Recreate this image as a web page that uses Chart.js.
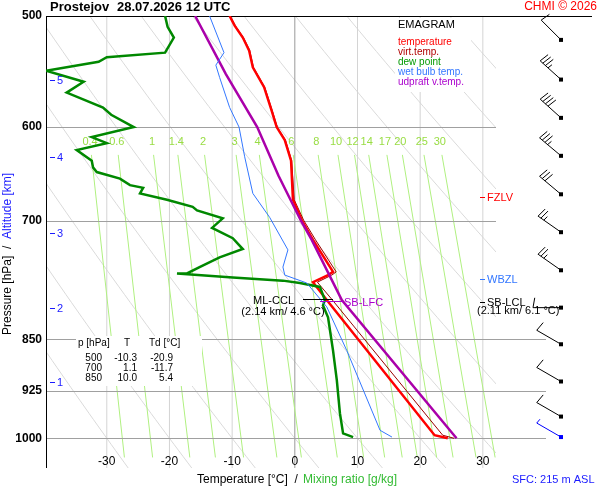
<!DOCTYPE html>
<html>
<head>
<meta charset="utf-8">
<script src="https://cdn.jsdelivr.net/npm/chart.js@4/dist/chart.umd.min.js"></script>
<style>
  html, body { margin: 0; padding: 0; background: #fff; }
  #wrap { width: 600px; height: 500px; }
</style>
</head>
<body>
<div id="wrap"><canvas id="emagram" width="600" height="500"></canvas></div>
<script>
// sounding profiles, pressure [hPa] / temperature [°C]
const tempP = [1000, 995, 797, 774, 765, 761, 722, 699, 676, 634, 613, 600, 584, 562, 544, 529, 518, 508, 500];
const tempT = [24.4, 22.3, 5.1, 2.9, 5.3, 6.1, 2.9, 1.1, -0.3, -0.6, -1.6, -2.9, -3.7, -4.9, -6.7, -7.3, -8.3, -9.6, -10.4];

const virtP = [1000, 995, 797, 774, 765, 761, 722, 699, 676, 634, 613, 600, 584, 562, 544, 529, 518, 508, 500];
const virtT = [25.4, 23.6, 6.0, 3.6, 5.9, 6.6, 3.3, 1.4, -0.1, -0.5, -1.5, -2.8, -3.6, -4.8, -6.6, -7.2, -8.2, -9.5, -10.3];

const dewP = [998, 992, 960, 909, 866, 820, 804, 797, 780, 775, 772, 768, 763, 763, 755, 743, 733, 720, 708, 697,
  688, 684, 676, 669, 663, 660, 653, 646, 641, 634, 623, 616, 610, 600, 588, 581, 567, 557, 547, 539, 535, 531, 518, 509, 500];
const dewT = [9.3, 7.7, 7.2, 6.7, 6.1, 5.3, 4.5, 4.8, 4.0, 0.8, -1.9, -9.9, -18.8, -17.2, -15.2, -12.0, -8.3, -9.9, -13.2, -11.5,
  -15.6, -16.3, -20.4, -24.7, -24.2, -26.3, -27.9, -31.6, -32.2, -32.4, -34.8, -30.0, -32.4, -25.7, -29.3, -30.6, -36.4, -33.7, -39.7, -31.3, -30.0, -20.7, -19.3, -20.3, -20.7];

const wetP = [998, 987, 866, 806, 775, 765, 755, 734, 696, 669, 630, 600, 581, 553, 542, 531, 500];
const wetT = [15.5, 13.6, 8.3, 5.1, 1.9, -1.6, -1.9, -1.1, -4.0, -6.7, -8.0, -8.9, -10.4, -12.0, -12.6, -11.3, -13.6];

const parcelP = [1000, 797, 722, 700, 650, 600, 550, 500];
const parcelT = [25.8, 7.5, 2.7, 1.0, -2.6, -6.0, -11.0, -15.9];

// axes and reference lines
const isobars = [600, 700, 850, 925, 1000];
const isotherms = [-30, -20, -10, 0, 10, 20, 30];
const tempTicks = [-30, -20, -10, 0, 10, 20, 30];
const pressTicks = [500, 600, 700, 850, 925, 1000];
const mixRatios = [0.4, 0.6, 1, 1.4, 2, 3, 4, 6, 8, 10, 12, 14, 17, 20, 25, 30];
const dryAdiabats = [-30, -20, -10, 0, 10, 20, 30, 40, 50, 60, 70, 80, 90, 100, 110, 120];

// altitude marks [km] and the pressure they sit at
const altKm = [1, 2, 3, 4, 5];
const altP = [912, 808, 714, 630, 555];

// wind profile
const windP = [520, 555, 591, 629, 670, 713, 759, 807, 857, 911, 965, 998];
const windDir = [315, 312, 312, 310, 310, 305, 305, 270, 300, 300, 300, 300];
const windSpd = [10, 35, 40, 35, 30, 25, 25, 10, 10, 10, 10, 5];

const pairs = (ps, ts) => ps.map((p, i) => ({ x: ts[i], y: p }));

function mixTd(w, p) {
  const e = w * p / (622 + w);
  const l = Math.log(e / 6.112);
  return 243.5 * l / (17.67 - l);
}

const FONT = '"Liberation Sans", Arial, sans-serif';

const emagramPlugin = {
  id: 'emagram',
  beforeDatasetsDraw(chart) {
    const { ctx, chartArea: a, scales: { x, y } } = chart;
    ctx.save();
    ctx.beginPath();
    ctx.rect(a.left, a.top, a.right - a.left, a.bottom - a.top);
    ctx.clip();

    // dry adiabats
    ctx.strokeStyle = '#dadada';
    ctx.lineWidth = 1;
    dryAdiabats.forEach(th => {
      ctx.beginPath();
      for (let p = 1060; p >= 495; p -= 10) {
        const t = (th + 273.15) * Math.pow(p / 1000, 0.286) - 273.15;
        const px = x.getPixelForValue(t), py = y.getPixelForValue(p);
        if (p === 1060) ctx.moveTo(px, py); else ctx.lineTo(px, py);
      }
      ctx.stroke();
    });

    // isotherms
    isotherms.forEach(t => {
      ctx.strokeStyle = t === 0 ? '#999' : '#d4d4d4';
      ctx.beginPath();
      ctx.moveTo(x.getPixelForValue(t), a.top);
      ctx.lineTo(x.getPixelForValue(t), a.bottom);
      ctx.stroke();
    });

    // mixing ratio lines
    ctx.strokeStyle = '#b0f080';
    mixRatios.forEach(w => {
      ctx.beginPath();
      ctx.moveTo(x.getPixelForValue(mixTd(w, 628)), y.getPixelForValue(628));
      ctx.lineTo(x.getPixelForValue(mixTd(w, 1032)), y.getPixelForValue(1032));
      ctx.stroke();
    });
    ctx.restore();

    // isobars
    ctx.save();
    ctx.strokeStyle = '#a0a0a0';
    ctx.lineWidth = 1;
    isobars.forEach(p => {
      const py = Math.round(y.getPixelForValue(p)) + 0.5;
      ctx.beginPath();
      ctx.moveTo(a.left, py);
      ctx.lineTo(p >= 850 ? 546 : a.right, py);
      ctx.stroke();
    });
    ctx.strokeStyle = '#000';
    ctx.beginPath();
    ctx.moveTo(a.left + 0.5, a.top);
    ctx.lineTo(a.left + 0.5, a.bottom);
    ctx.moveTo(a.left, a.top + 0.5);
    ctx.lineTo(592, a.top + 0.5);
    ctx.stroke();

    // mixing ratio labels
    ctx.font = '11px ' + FONT;
    ctx.fillStyle = '#99dd44';
    ctx.textAlign = 'center';
    ctx.textBaseline = 'middle';
    mixRatios.forEach(w => {
      ctx.fillText(String(w), x.getPixelForValue(mixTd(w, 615)), 142);
    });
    ctx.restore();
  },
  afterDatasetsDraw(chart) {
    const { ctx, scales: { x, y } } = chart;
    ctx.save();
    ctx.textBaseline = 'middle';

    // pressure ticks
    ctx.font = 'bold 12px ' + FONT;
    ctx.fillStyle = '#000';
    ctx.textAlign = 'right';
    pressTicks.forEach(p => ctx.fillText(String(p), 42, y.getPixelForValue(p)));

    // temperature ticks
    ctx.font = '12px ' + FONT;
    ctx.textAlign = 'center';
    tempTicks.forEach(t => ctx.fillText(String(t), x.getPixelForValue(t), 462));

    // altitude marks
    ctx.fillStyle = '#1a1aff';
    ctx.strokeStyle = '#1a1aff';
    ctx.font = '11px ' + FONT;
    ctx.textAlign = 'left';
    altKm.forEach((k, i) => {
      const py = Math.round(y.getPixelForValue(altP[i])) + 0.5;
      ctx.beginPath(); ctx.moveTo(50, py); ctx.lineTo(55, py); ctx.stroke();
      ctx.fillText(String(k), 57, py);
    });

    // title and captions
    ctx.fillStyle = '#000';
    ctx.font = 'bold 13px ' + FONT;
    ctx.fillText('Prostejov', 50, 7);
    ctx.fillText('28.07.2026 12 UTC', 117, 7);
    ctx.font = '12px ' + FONT;
    ctx.fillStyle = '#ff0000';
    ctx.textAlign = 'right';
    ctx.fillText('CHMI \u00a9 2026', 597, 7);
    ctx.textAlign = 'left';
    ctx.fillStyle = '#000';
    ctx.fillText('Temperature [\u00b0C]  /  ', 197, 480);
    ctx.fillStyle = '#33bb33';
    ctx.fillText('Mixing ratio [g/kg]', 303, 480);
    ctx.fillStyle = '#1a1aff';
    ctx.font = '11px ' + FONT;
    ctx.fillText('SFC: 215 m ASL', 512, 480);

    ctx.save();
    ctx.translate(8, 335);
    ctx.rotate(-Math.PI / 2);
    ctx.font = '12px ' + FONT;
    ctx.fillStyle = '#000';
    ctx.fillText('Pressure [hPa]  /  ', 0, 0);
    ctx.fillStyle = '#1a1aff';
    ctx.fillText('Altitude [km]', ctx.measureText('Pressure [hPa]  /  ').width, 0);
    ctx.restore();

    // legend
    ctx.fillStyle = '#fff';
    ctx.fillRect(395, 18, 76, 74);
    ctx.font = '11px ' + FONT;
    ctx.fillStyle = '#000';
    ctx.fillText('EMAGRAM', 398, 25);
    ctx.font = '10px ' + FONT;
    [['temperature', '#ff0000', 42], ['virt.temp.', '#b00000', 52], ['dew point', '#009900', 62],
     ['wet bulb temp.', '#3377ff', 72], ['udpraft v.temp.', '#aa00cc', 82]].forEach(([s, c, yy]) => {
      ctx.fillStyle = c; ctx.fillText(s, 398, yy);
    });

    // levels
    const mark = (p, label, color) => {
      const py = Math.round(y.getPixelForValue(p)) + 0.5;
      ctx.strokeStyle = color; ctx.fillStyle = color;
      ctx.beginPath(); ctx.moveTo(480, py); ctx.lineTo(485, py); ctx.stroke();
      ctx.fillText(label, 487, py);
    };
    ctx.font = '11px ' + FONT;
    mark(673, 'FZLV', '#ff0000');
    mark(770, 'WBZL', '#3377ff');
    mark(799, 'SB-LCL', '#000');
    ctx.fillStyle = '#000';
    ctx.fillText('(2.11 km/ 6.1 \u00b0C)', 477, 311);

    const yCcl = Math.round(y.getPixelForValue(797)) + 0.5;
    ctx.strokeStyle = '#000';
    ctx.beginPath(); ctx.moveTo(303, yCcl - 1); ctx.lineTo(333, yCcl - 1); ctx.stroke();
    ctx.strokeStyle = '#aa00cc';
    ctx.beginPath(); ctx.moveTo(320, yCcl + 1); ctx.lineTo(343, yCcl + 1); ctx.stroke();
    ctx.fillStyle = '#000';
    ctx.textAlign = 'right';
    ctx.fillText('ML-CCL', 294, yCcl);
    ctx.textAlign = 'center';
    ctx.fillText('(2.14 km/ 4.6 \u00b0C)', 283, yCcl + 11);
    ctx.textAlign = 'left';
    ctx.fillStyle = '#aa00cc';
    ctx.fillText('SB-LFC', 344, yCcl + 2);

    // table
    ctx.fillStyle = '#fff';
    ctx.fillRect(76, 336, 126, 50);
    ctx.fillStyle = '#000';
    ctx.font = '10px ' + FONT;
    ctx.fillText('p [hPa]', 78, 343);
    ctx.fillText('T', 124, 343);
    ctx.fillText('Td [\u00b0C]', 149, 343);
    ctx.textAlign = 'right';
    [['500', '-10.3', '-20.9', 358], ['700', '1.1', '-11.7', 368], ['850', '10.0', '5.4', 378]].forEach(r => {
      ctx.fillText(r[0], 102, r[3]); ctx.fillText(r[1], 137, r[3]); ctx.fillText(r[2], 173, r[3]);
    });

    // wind barbs
    windP.forEach((p, i) => {
      const px = 561, py = y.getPixelForValue(p);
      const color = i === windP.length - 1 ? '#0000ff' : '#000';
      const d = windDir[i] * Math.PI / 180;
      const ux = Math.sin(d), uy = -Math.cos(d);
      const len = 28;
      const tx = px + ux * len, ty = py + uy * len;
      const r = 100 * Math.PI / 180;
      const bx = ux * Math.cos(r) - uy * Math.sin(r), by = ux * Math.sin(r) + uy * Math.cos(r);
      ctx.strokeStyle = color; ctx.fillStyle = color; ctx.lineWidth = 1;
      ctx.beginPath(); ctx.moveTo(px, py); ctx.lineTo(tx, ty);
      let s = windSpd[i], k = 0;
      while (s >= 10) {
        const sx = tx - ux * k * 3.5, sy = ty - uy * k * 3.5;
        ctx.moveTo(sx, sy); ctx.lineTo(sx + bx * 10, sy + by * 10);
        s -= 10; k++;
      }
      if (s >= 5) {
        const sx = tx - ux * k * 3.5, sy = ty - uy * k * 3.5;
        ctx.moveTo(sx, sy); ctx.lineTo(sx + bx * 5, sy + by * 5);
      }
      ctx.stroke();
      ctx.fillRect(px - 2, py - 2, 4, 4);
    });
    ctx.restore();
  }
};

const line = (data, color, width) => ({
  data, borderColor: color, borderWidth: width, pointRadius: 0,
  showLine: true, fill: false, tension: 0
});

new Chart(document.getElementById('emagram'), {
  type: 'scatter',
  data: {
    datasets: [
      line(pairs(wetP, wetT), '#3377ff', 1),
      line(pairs(dewP, dewT), '#008800', 2.5),
      line(pairs(parcelP, parcelT), '#aa00aa', 2.5),
      line(pairs(tempP, tempT), '#ff0000', 2.5),
      line(pairs(virtP, virtT), '#990000', 1)
    ]
  },
  options: {
    responsive: false,
    animation: false,
    devicePixelRatio: 1,
    layout: { padding: { left: 46, right: 104, top: 16, bottom: 32 } },
    plugins: { legend: { display: false }, tooltip: { enabled: false } },
    scales: {
      x: { type: 'linear', min: -39.7, max: 32.1, display: false },
      y: { type: 'logarithmic', min: 500, max: 1050, reverse: true, display: false }
    }
  },
  plugins: [emagramPlugin]
});
</script>
</body>
</html>
